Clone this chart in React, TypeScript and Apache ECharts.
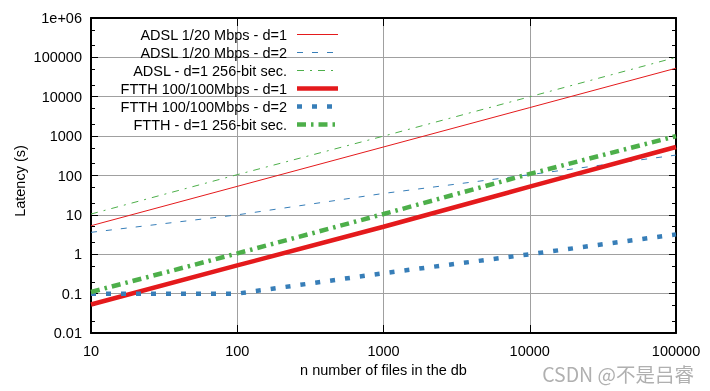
import React, { useEffect, useRef } from 'react';
import * as echarts from 'echarts';

// ---- data ----
const nFiles = [10, 100, 1000, 10000, 100000];
const adslD1 = [5.3, 53, 530, 5300, 53000];
const adslD2 = [3.6, 10, 35, 105, 330];
const adsl256 = [10.5, 105, 1000, 10000, 100000];
const ftthD1 = [0.053, 0.52, 5, 52, 530];
const ftthD2 = [0.1, 0.1, 0.33, 1, 3.2];
const ftth256 = [0.11, 1.05, 10.5, 110, 1000];

const seriesNames = [
  'ADSL 1/20 Mbps - d=1',
  'ADSL 1/20 Mbps - d=2',
  'ADSL - d=1 256-bit sec.',
  'FTTH 100/100Mbps - d=1',
  'FTTH 100/100Mbps - d=2',
  'FTTH - d=1 256-bit sec.',
];
const seriesValues = [adslD1, adslD2, adsl256, ftthD1, ftthD2, ftth256];

const xTickLabels = ['10', '100', '1000', '10000', '100000'];
const yTickLabels = ['0.01', '0.1', '1', '10', '100', '1000', '10000', '100000', '1e+06'];
const yMinorTicks = [
  0.02, 0.05, 0.2, 0.5, 2, 5, 20, 50, 200, 500, 2000, 5000, 20000, 50000, 200000, 500000,
];

const xTitle = 'n number of files in the db';
const yTitle = 'Latency (s)';
const watermark = 'CSDN @不是吕睿';

// ---- styles ----
const RED = '#e41a1c';
const BLUE = '#377eb8';
const GREEN = '#4daf4a';
const seriesStyles: { color: string; width: number; dash: number[] | null }[] = [
  { color: RED, width: 1, dash: null },
  { color: BLUE, width: 1, dash: [6, 9] },
  { color: GREEN, width: 1, dash: [7, 6, 2, 6] },
  { color: RED, width: 4.5, dash: null },
  { color: BLUE, width: 4.5, dash: [5, 10] },
  { color: GREEN, width: 4.5, dash: [9, 5, 2.5, 5] },
];

const FONT = '"Liberation Sans", Arial, sans-serif';
const FS = 14.5;
const X_MIN = 10;
const X_MAX = 100000;
const Y_MIN = 0.01;
const Y_MAX = 1000000;

// legend layout (inside plot, top-left; text right-aligned, sample line to its right)
const LEG_TEXT_RIGHT = 287;
const LEG_LINE_X1 = 297;
const LEG_LINE_X2 = 338;
const LEG_TOP = 34.5;
const LEG_STEP = 18;

const xLabel = (v: number) => xTickLabels[Math.round(Math.log10(v)) - 1] ?? String(v);
const yLabel = (v: number) => yTickLabels[Math.round(Math.log10(v)) + 2] ?? String(v);

const frameLine = { show: true, onZero: false, lineStyle: { color: '#000', width: 2 } };

export default function App() {
  const ref = useRef<HTMLDivElement>(null);
  useEffect(() => {
    const chart = echarts.init(ref.current!, null, { renderer: 'svg' });
    const legendElements: any[] = [];
    seriesNames.forEach((name, i) => {
      const y = LEG_TOP + LEG_STEP * i;
      legendElements.push({
        type: 'text',
        x: LEG_TEXT_RIGHT,
        y,
        z: 100,
        style: { text: name, fontSize: FS, fill: '#000', fontFamily: FONT, textAlign: 'right', textVerticalAlign: 'middle' },
      });
      legendElements.push({
        type: 'line',
        z: 100,
        shape: { x1: LEG_LINE_X1, y1: y, x2: LEG_LINE_X2, y2: y },
        style: {
          stroke: seriesStyles[i].color,
          lineWidth: seriesStyles[i].width,
          lineDash: seriesStyles[i].dash ?? undefined,
          lineCap: 'butt',
        },
      });
    });
    const option: any = {
      animation: false,
      textStyle: { fontFamily: FONT },
      grid: { left: 91, right: 34, top: 18, bottom: 58, containLabel: false, outerBoundsMode: 'none' },
      xAxis: [
        {
          type: 'log',
          logBase: 10,
          min: X_MIN,
          max: X_MAX,
          position: 'bottom',
          axisLine: frameLine,
          axisTick: { show: true, inside: true, length: 8, lineStyle: { color: '#000', width: 1 } },
          axisLabel: { color: '#000', fontSize: FS, margin: 10, formatter: xLabel, fontFamily: FONT },
          splitLine: { show: true, lineStyle: { color: '#a0a0a0', width: 1 } },
          name: xTitle,
          nameLocation: 'middle',
          nameGap: 28,
          nameTextStyle: { color: '#000', fontSize: FS, fontFamily: FONT },
        },
        {
          type: 'log',
          logBase: 10,
          min: X_MIN,
          max: X_MAX,
          position: 'top',
          axisLine: frameLine,
          axisTick: { show: true, inside: true, length: 8, lineStyle: { color: '#000', width: 1 } },
          axisLabel: { show: false },
          splitLine: { show: false },
        },
      ],
      yAxis: [
        {
          type: 'log',
          logBase: 10,
          min: Y_MIN,
          max: Y_MAX,
          splitNumber: 8,
          position: 'left',
          axisLine: frameLine,
          axisTick: { show: true, inside: true, length: 7, lineStyle: { color: '#000', width: 1 } },
          axisLabel: { color: '#000', fontSize: FS, margin: 9, formatter: yLabel, fontFamily: FONT },
          splitLine: { show: true, lineStyle: { color: '#a0a0a0', width: 1 } },
        },
        {
          type: 'log',
          logBase: 10,
          min: Y_MIN,
          max: Y_MAX,
          position: 'left',
          axisLine: { show: false },
          axisTick: { show: true, inside: true, length: 4, customValues: yMinorTicks, lineStyle: { color: '#000', width: 1 } },
          axisLabel: { show: false },
          splitLine: { show: false },
        },
        {
          type: 'log',
          logBase: 10,
          min: Y_MIN,
          max: Y_MAX,
          splitNumber: 8,
          position: 'right',
          axisLine: frameLine,
          axisTick: { show: true, inside: true, length: 7, lineStyle: { color: '#000', width: 1 } },
          axisLabel: { show: false },
          splitLine: { show: false },
        },
        {
          type: 'log',
          logBase: 10,
          min: Y_MIN,
          max: Y_MAX,
          position: 'right',
          axisLine: { show: false },
          axisTick: { show: true, inside: true, length: 4, customValues: yMinorTicks, lineStyle: { color: '#000', width: 1 } },
          axisLabel: { show: false },
          splitLine: { show: false },
        },
      ],
      series: seriesNames.map((name, i) => ({
        name,
        type: 'line',
        xAxisIndex: 0,
        yAxisIndex: 0,
        symbol: 'none',
        showSymbol: false,
        clip: true,
        color: seriesStyles[i].color,
        lineStyle: {
          color: seriesStyles[i].color,
          width: seriesStyles[i].width,
          type: seriesStyles[i].dash ?? 'solid',
          cap: 'butt',
        },
        data: nFiles.map((n, k) => [n, seriesValues[i][k]]),
      })),
      graphic: [
        ...legendElements,
        {
          type: 'text',
          x: 20,
          y: 181,
          rotation: Math.PI / 2,
          style: { text: yTitle, fontSize: FS, fill: '#000', fontFamily: FONT, textAlign: 'center', textVerticalAlign: 'middle' },
        },
        {
          type: 'text',
          x: 694,
          y: 373,
          style: { text: watermark, fontSize: 19.5, fill: '#b0b0b0', fontFamily: '"Noto Sans CJK SC", sans-serif', textAlign: 'right', textVerticalAlign: 'middle' },
        },
      ],
    };
    chart.setOption(option);
    return () => chart.dispose();
  }, []);
  return <div ref={ref} style={{ position: 'fixed', left: 0, top: 0, width: 710, height: 391 }} />;
}
